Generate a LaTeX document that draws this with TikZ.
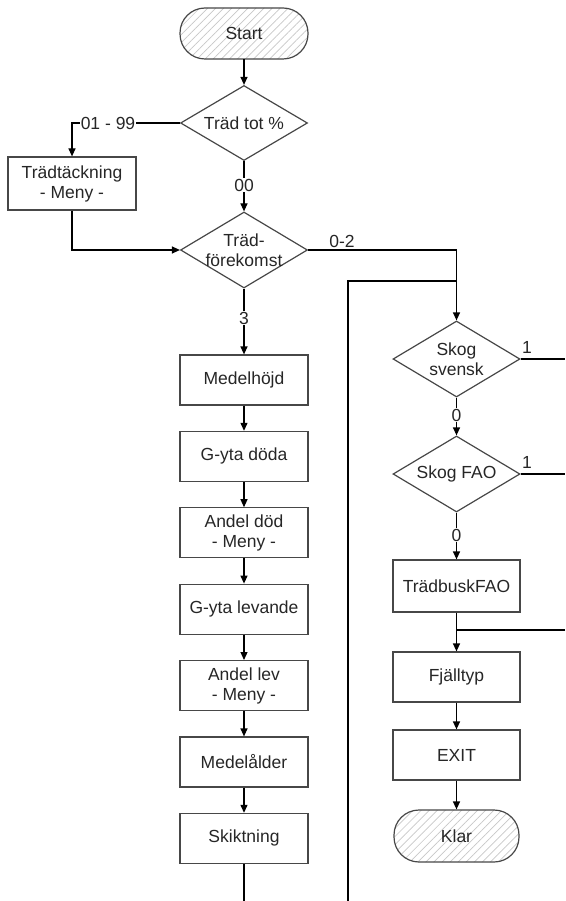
\documentclass[tikz,border=0pt]{standalone}
\usepackage{fontspec}
\setmainfont{Liberation Sans}
\usetikzlibrary{shapes.geometric,arrows.meta,patterns.meta}
\begin{document}
\begin{tikzpicture}[x=1pt,y=-1pt,
 every node/.style={font=\fontsize{17.5}{20}\selectfont, text=black!85},
 box/.style={draw=black!72, line width=1.2pt, minimum width=128pt, minimum height=50pt, align=center, inner sep=0pt},
 dia/.style={draw=black!72, line width=1.2pt, diamond, minimum width=127pt, minimum height=75pt, inner sep=0pt},
 term/.style={draw=black!72, line width=1.2pt, rounded corners=25pt, minimum width=128pt, minimum height=51pt, pattern={Lines[angle=45,distance=5.7pt,line width=0.7pt]}, pattern color=black!22},
 conn/.style={line width=1.2pt, black},
 arr/.style={conn, -{Triangle[length=8pt,width=7pt]}},
 lbl/.style={fill=white, inner sep=1pt},
 lblnf/.style={inner sep=1pt},
]
\useasboundingbox (0,0) rectangle (565,901);
% left column
\node[term] (start) at (244,33.5) {Start};
\node[dia, label={center:Träd tot \%}] (d1) at (244,123) {};
\node[box, minimum height=53pt] (tt) at (72,183.5) {Trädtäckning\\- Meny -};
\node[dia, minimum height=76pt, label={[align=center]center:{Träd-\\förekomst}}] (d2) at (244,250) {};
\node[box] (b1) at (244,380) {Medelhöjd};
\node[box] (b2) at (244,456.4) {G-yta döda};
\node[box] (b3) at (244,532.8) {Andel död\\- Meny -};
\node[box] (b4) at (244,609.2) {G-yta levande};
\node[box] (b5) at (244,685.6) {Andel lev\\- Meny -};
\node[box] (b6) at (244,762) {Medelålder};
\node[box] (b7) at (244,838.4) {Skiktning};
% right column
\node[dia, minimum height=76pt, label={[align=center]center:{Skog\\svensk}}] (ss) at (456.5,359) {};
\node[dia, minimum height=76pt, label={center:Skog FAO}] (fao) at (456.5,474) {};
\node[box, minimum width=127pt, minimum height=52pt] (tb) at (456.5,586) {TrädbuskFAO};
\node[box, minimum width=127pt] (fj) at (456.5,677) {Fjälltyp};
\node[box, minimum width=127pt] (ex) at (456.5,755) {EXIT};
\node[term, minimum width=125pt, minimum height=52pt] (klar) at (456.5,836) {Klar};
% free ends
\coordinate (loopb) at (348,901);
\coordinate (j1) at (456.5,281);
\coordinate (lbot) at (244,901);
\coordinate (r1) at (565,359);
\coordinate (r2) at (565,474);
\coordinate (r3) at (565,630);
\coordinate (j2) at (456.5,630);
% connectors
\draw[arr] (start) -- (d1);
\draw[arr] (d1.west) -| (tt.north);
\draw[arr] (d1) -- (d2);
\draw[arr] (tt.south) |- (d2.west);
\draw[arr] (d2.east) -| (ss.north);
\draw[conn] (loopb) |- (j1);
\draw[arr] (d2) -- (b1);
\draw[arr] (b1) -- (b2);
\draw[arr] (b2) -- (b3);
\draw[arr] (b3) -- (b4);
\draw[arr] (b4) -- (b5);
\draw[arr] (b5) -- (b6);
\draw[arr] (b6) -- (b7);
\draw[conn] (b7) -- (lbot);
\draw[conn] (ss.east) -- (r1);
\draw[arr] (ss) -- (fao);
\draw[conn] (fao.east) -- (r2);
\draw[arr] (fao) -- (tb);
\draw[arr] (tb) -- (fj);
\draw[conn] (r3) -- (j2);
\draw[arr] (fj) -- (ex);
\draw[arr] (ex) -- (klar);
% labels
\node[lbl] (l1) at (108,123) {01 - 99};
\node[lbl] (l2) at (244,185) {00};
\node[lbl] (l3) at (244,318) {3};
\node[lblnf] (l4) at (342,241) {0-2};
\node[lblnf] (l5) at (527,347) {1};
\node[lbl] (l6) at (456.5,415) {0};
\node[lblnf] (l7) at (527,462) {1};
\node[lbl] (l8) at (456.5,535) {0};
\end{tikzpicture}
\end{document}
